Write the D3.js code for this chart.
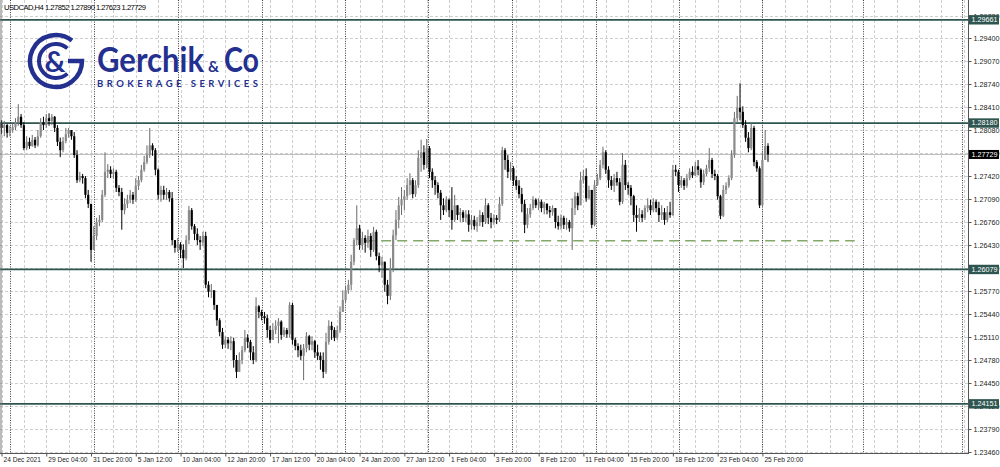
<!DOCTYPE html>
<html><head><meta charset="utf-8">
<script src="https://cdn.jsdelivr.net/npm/d3@7"></script>
<style>html,body{margin:0;padding:0;background:#fff;overflow:hidden}svg{display:block}</style>
</head><body><svg id="c" width="1000" height="467"></svg>
<script>
// ---- DATA (USDCAD, H4) ----
const symbolTitle = "USDCAD,H4";
const lastQuote = ["1.27852", "1.27890", "1.27623", "1.27729"];
const firstOpen = 1.2817;
const closes = [
1.2811,1.2815,1.2804,1.2808,1.2812,1.2819,1.2827,1.2815,1.2782,1.2791,
1.2785,1.2794,1.2786,1.2799,1.2819,1.2815,1.2825,1.2821,1.2827,1.2811,
1.2791,1.2779,1.2792,1.2802,1.2808,1.2799,1.2772,1.2736,1.2742,1.2739,
1.2715,1.2702,1.2636,1.2656,1.2676,1.2679,1.2715,1.2748,1.2751,1.2745,
1.2748,1.2725,1.2719,1.2693,1.2702,1.2708,1.2715,1.2708,1.2728,1.2736,
1.2751,1.2762,1.2772,1.2786,1.2779,1.2751,1.2715,1.2722,1.2715,1.2719,
1.2710,1.2650,1.2639,1.2644,1.2636,1.2624,1.2650,1.2693,1.2670,1.2659,
1.2650,1.2647,1.2656,1.2586,1.2576,1.2578,1.2557,1.2535,1.2518,1.2500,
1.2507,1.2502,1.2505,1.2478,1.2461,1.2478,1.2492,1.2510,1.2504,1.2489,
1.2478,1.2555,1.2547,1.2541,1.2538,1.2521,1.2507,1.2521,1.2527,1.2533,
1.2514,1.2521,1.2515,1.2557,1.2507,1.2498,1.2492,1.2484,1.2495,1.2512,
1.2500,1.2505,1.2489,1.2484,1.2478,1.2461,1.2504,1.2527,1.2521,1.2510,
1.2521,1.2547,1.2564,1.2578,1.2586,1.2619,1.2650,1.2667,1.2643,1.2653,
1.2646,1.2656,1.2636,1.2662,1.2627,1.2614,1.2619,1.2586,1.2570,1.2610,
1.2657,1.2679,1.2700,1.2708,1.2713,1.2729,1.2736,1.2716,1.2729,1.2768,
1.2776,1.2758,1.2782,1.2748,1.2736,1.2729,1.2718,1.2700,1.2693,1.2708,
1.2693,1.2679,1.2700,1.2686,1.2690,1.2682,1.2687,1.2672,1.2679,1.2670,
1.2676,1.2686,1.2676,1.2700,1.2682,1.2676,1.2682,1.2679,1.2702,1.2779,
1.2765,1.2748,1.2753,1.2736,1.2728,1.2716,1.2702,1.2672,1.2687,1.2696,
1.2708,1.2700,1.2705,1.2696,1.2702,1.2693,1.2690,1.2696,1.2676,1.2670,
1.2682,1.2672,1.2676,1.2667,1.2696,1.2713,1.2700,1.2736,1.2742,1.2710,
1.2722,1.2672,1.2729,1.2739,1.2758,1.2776,1.2751,1.2736,1.2728,1.2739,
1.2733,1.2705,1.2758,1.2729,1.2725,1.2713,1.2686,1.2682,1.2687,1.2682,
1.2696,1.2700,1.2693,1.2705,1.2696,1.2686,1.2690,1.2679,1.2690,1.2686,
1.2751,1.2748,1.2729,1.2736,1.2728,1.2739,1.2748,1.2743,1.2756,1.2751,
1.2733,1.2745,1.2753,1.2765,1.2745,1.2742,1.2713,1.2685,1.2722,1.2728,
1.2739,1.2772,1.2825,1.2840,1.2834,1.2815,1.2797,1.2782,1.2811,1.2762,
1.2753,1.2700,1.2765,1.27852,1.27729];
const highs = [
1.2822,1.2821,1.2817,1.2814,1.2818,1.2825,1.2845,1.2831,1.2819,1.2799,
1.2797,1.2801,1.2798,1.2808,1.2825,1.2827,1.2831,1.2832,1.2831,1.2828,
1.2815,1.2797,1.2798,1.2811,1.2811,1.2808,1.2805,1.2779,1.2748,1.2745,
1.2742,1.2722,1.2700,1.2670,1.2682,1.2686,1.2722,1.2776,1.2759,1.2756,
1.2753,1.2751,1.2729,1.2725,1.2710,1.2715,1.2722,1.2719,1.2739,1.2742,
1.2758,1.2771,1.2786,1.2811,1.2789,1.2782,1.2753,1.2728,1.2728,1.2725,
1.2722,1.2719,1.2650,1.2653,1.2647,1.2644,1.2657,1.2699,1.2696,1.2673,
1.2667,1.2656,1.2662,1.2662,1.2591,1.2587,1.2578,1.2557,1.2538,1.2524,
1.2512,1.2511,1.2512,1.2510,1.2485,1.2489,1.2498,1.2521,1.2515,1.2507,
1.2498,1.2568,1.2557,1.2550,1.2547,1.2543,1.2527,1.2531,1.2535,1.2538,
1.2535,1.2525,1.2524,1.2561,1.2560,1.2510,1.2502,1.2500,1.2501,1.2518,
1.2514,1.2512,1.2507,1.2500,1.2489,1.2489,1.2517,1.2535,1.2533,1.2525,
1.2527,1.2555,1.2578,1.2584,1.2593,1.2629,1.2653,1.2700,1.2672,1.2662,
1.2657,1.2665,1.2660,1.2669,1.2665,1.2632,1.2626,1.2619,1.2593,1.2624,
1.2665,1.2693,1.2712,1.2726,1.2722,1.2739,1.2746,1.2739,1.2736,1.2779,
1.2794,1.2786,1.2795,1.2785,1.2753,1.2742,1.2733,1.2722,1.2710,1.2713,
1.2710,1.2726,1.2715,1.2700,1.2696,1.2693,1.2693,1.2693,1.2686,1.2685,
1.2683,1.2693,1.2690,1.2710,1.2703,1.2689,1.2687,1.2686,1.2712,1.2784,
1.2782,1.2772,1.2762,1.2756,1.2742,1.2736,1.2725,1.2708,1.2696,1.2702,
1.2713,1.2710,1.2710,1.2708,1.2705,1.2703,1.2699,1.2700,1.2696,1.2685,
1.2687,1.2685,1.2682,1.2679,1.2710,1.2719,1.2718,1.2748,1.2751,1.2753,
1.2728,1.2722,1.2736,1.2745,1.2765,1.2784,1.2779,1.2756,1.2742,1.2745,
1.2748,1.2739,1.2775,1.2765,1.2733,1.2729,1.2715,1.2700,1.2696,1.2693,
1.2700,1.2710,1.2708,1.2710,1.2708,1.2705,1.2700,1.2696,1.2699,1.2705,
1.2758,1.2758,1.2751,1.2742,1.2739,1.2745,1.2753,1.2756,1.2762,1.2765,
1.2753,1.2751,1.2758,1.2782,1.2768,1.2751,1.2745,1.2715,1.2729,1.2733,
1.2743,1.2779,1.2834,1.2857,1.2875,1.2842,1.2822,1.2805,1.2818,1.2814,
1.2765,1.2756,1.2776,1.2808,1.27890];
const lows = [
1.2802,1.2799,1.2797,1.2799,1.2804,1.2808,1.2814,1.2811,1.2779,1.2779,
1.2781,1.2784,1.2782,1.2784,1.2797,1.2808,1.2811,1.2814,1.2815,1.2805,
1.2785,1.2769,1.2776,1.2789,1.2797,1.2794,1.2768,1.2732,1.2733,1.2731,
1.2710,1.2696,1.2619,1.2636,1.2650,1.2670,1.2676,1.2712,1.2739,1.2739,
1.2738,1.2719,1.2713,1.2665,1.2687,1.2696,1.2703,1.2702,1.2705,1.2722,
1.2733,1.2748,1.2759,1.2768,1.2771,1.2743,1.2708,1.2705,1.2708,1.2708,
1.2705,1.2643,1.2632,1.2633,1.2624,1.2610,1.2621,1.2644,1.2665,1.2650,
1.2643,1.2636,1.2642,1.2581,1.2568,1.2567,1.2550,1.2527,1.2512,1.2494,
1.2495,1.2494,1.2492,1.2467,1.2452,1.2464,1.2472,1.2489,1.2495,1.2478,
1.2472,1.2475,1.2538,1.2535,1.2530,1.2510,1.2502,1.2510,1.2515,1.2502,
1.2507,1.2511,1.2510,1.2510,1.2500,1.2492,1.2482,1.2478,1.2449,1.2489,
1.2492,1.2492,1.2481,1.2478,1.2464,1.2452,1.2458,1.2500,1.2507,1.2505,
1.2507,1.2517,1.2547,1.2560,1.2573,1.2578,1.2614,1.2643,1.2636,1.2636,
1.2632,1.2639,1.2626,1.2633,1.2621,1.2604,1.2596,1.2576,1.2558,1.2564,
1.2604,1.2650,1.2667,1.2686,1.2693,1.2708,1.2715,1.2710,1.2712,1.2725,
1.2748,1.2751,1.2753,1.2739,1.2725,1.2715,1.2710,1.2679,1.2686,1.2690,
1.2683,1.2665,1.2676,1.2679,1.2676,1.2676,1.2676,1.2662,1.2665,1.2665,
1.2662,1.2670,1.2669,1.2673,1.2673,1.2667,1.2672,1.2673,1.2676,1.2699,
1.2751,1.2739,1.2736,1.2728,1.2722,1.2710,1.2690,1.2660,1.2667,1.2682,
1.2693,1.2696,1.2693,1.2690,1.2687,1.2687,1.2682,1.2685,1.2667,1.2665,
1.2665,1.2666,1.2665,1.2662,1.2636,1.2686,1.2693,1.2728,1.2731,1.2705,
1.2708,1.2667,1.2670,1.2728,1.2736,1.2753,1.2745,1.2725,1.2722,1.2719,
1.2728,1.2700,1.2702,1.2722,1.2715,1.2700,1.2676,1.2662,1.2676,1.2676,
1.2679,1.2690,1.2686,1.2690,1.2690,1.2676,1.2679,1.2672,1.2676,1.2682,
1.2685,1.2742,1.2719,1.2725,1.2722,1.2725,1.2736,1.2739,1.2742,1.2743,
1.2725,1.2729,1.2742,1.2748,1.2739,1.2736,1.2708,1.2680,1.2683,1.2716,
1.2725,1.2736,1.2768,1.2819,1.2822,1.2811,1.2791,1.2776,1.2779,1.2756,
1.2748,1.2696,1.2699,1.2771,1.27623];

const timeLabels = ["24 Dec 2021","29 Dec 04:00","31 Dec 20:00","5 Jan 12:00","10 Jan 04:00",
  "12 Jan 20:00","17 Jan 12:00","20 Jan 04:00","24 Jan 20:00","27 Jan 12:00","1 Feb 04:00",
  "3 Feb 20:00","8 Feb 12:00","11 Feb 04:00","15 Feb 20:00","18 Feb 12:00","23 Feb 04:00","25 Feb 20:00"];
const timeLabelBars = [0,16,32,48,64,80,96,112,128,144,160,176,192,208,224,240,256,272];
const priceLabels = ["1.23460","1.23790","1.24120","1.24450","1.24780","1.25110","1.25440","1.25770",
  "1.26100","1.26430","1.26760","1.27090","1.27420","1.27750","1.28080","1.28410","1.28740",
  "1.29070","1.29400","1.29720"];
const levelLabels = ["1.29661","1.28180","1.26079","1.24151"];
const currentPrice = 1.27729;
const supportLevel = 1.2649;
const supportFromBar = 130, supportToBar = 305;
const weekSeparatorBars = [3.2,33.1,63.1,93.1,122.8,152.5,182.5,212.6,242.3,271.9,308,343.4];

// ---- DRAW ----
const FONT = 'Tahoma, "Liberation Sans", Arial, sans-serif';
const plotR = 968, plotB = 453;
const svg = d3.select("#c");
const y = d3.scaleLinear().domain([1.23460, 1.29400]).range([452, 38]);
const x = d3.scaleLinear().domain([0, 274]).range([1.5, 768]);

const priceVals = priceLabels.map(Number);
const levels = levelLabels.map(Number);

// grid
const grid = svg.append("g");
grid.selectAll("line.h").data(priceVals).join("line")
  .attr("x1", 0).attr("x2", plotR).attr("y1", d => Math.round(y(d)) + 0.5).attr("y2", d => Math.round(y(d)) + 0.5)
  .attr("stroke", "#cfcfcf").attr("stroke-width", 1).attr("stroke-dasharray", "3,2");
const vBars = d3.range(0, 350, 8).filter(b => x(b) < plotR);
grid.selectAll("line.v").data(vBars).join("line")
  .attr("x1", d => Math.round(x(d)) + 0.5).attr("x2", d => Math.round(x(d)) + 0.5)
  .attr("y1", 0).attr("y2", plotB)
  .attr("stroke", "#cfcfcf").attr("stroke-width", 1).attr("stroke-dasharray", "3,2");
grid.selectAll("line.s").data(weekSeparatorBars).join("line")
  .attr("x1", d => Math.round(x(d)) + 0.5).attr("x2", d => Math.round(x(d)) + 0.5)
  .attr("y1", 0).attr("y2", plotB)
  .attr("stroke", "#3a3a3a").attr("stroke-width", 1).attr("stroke-dasharray", "1,1.4");

// logo
const logo = svg.append("g");
const blue = "#24308f";
const LF = "Lato, 'Open Sans', sans-serif";
const cx = 56, cy = 61;
function pt(r, a) { const t = a * Math.PI / 180; return [cx + r * Math.cos(t), cy + r * Math.sin(t)]; }
{
  const s = pt(26, -52);
  logo.append("path")
    .attr("d", `M${s[0]},${s[1]} A26,26 0 1 0 ${cx + 26},${cy} L${cx + 12},${cy}`)
    .attr("fill", "none").attr("stroke", blue).attr("stroke-width", 4.5);
  const a = pt(17, -48), b = pt(17, 48);
  logo.append("path")
    .attr("d", `M${a[0]},${a[1]} A17,17 0 1 0 ${b[0]},${b[1]}`)
    .attr("fill", "none").attr("stroke", blue).attr("stroke-width", 4);
  logo.append("text").attr("x", 55).attr("y", 72).attr("text-anchor", "middle")
    .attr("font-family", LF).attr("font-weight", 700)
    .attr("font-size", 29).attr("fill", blue).text("&");
  const brand = logo.append("text").attr("y", 72)
    .attr("font-family", LF).attr("font-weight", 700).attr("fill", blue);
  brand.append("tspan").attr("x", 97).attr("font-size", 34)
    .attr("textLength", 107).attr("lengthAdjust", "spacingAndGlyphs").text("Gerchik");
  brand.append("tspan").attr("x", 208).attr("font-size", 16)
    .attr("textLength", 11).attr("lengthAdjust", "spacingAndGlyphs").text("&");
  brand.append("tspan").attr("x", 224).attr("font-size", 34)
    .attr("textLength", 35).attr("lengthAdjust", "spacingAndGlyphs").text("Co");
  logo.append("text").attr("x", 97).attr("y", 87)
    .attr("font-family", LF).attr("font-weight", 700)
    .attr("font-size", 9.5).attr("fill", blue).attr("textLength", 161).attr("lengthAdjust", "spacing")
    .text("BROKERAGE SERVICES");
}

// current price line
svg.append("line").attr("x1", 0).attr("x2", plotR)
  .attr("y1", y(currentPrice)).attr("y2", y(currentPrice))
  .attr("stroke", "#bdbdbd").attr("stroke-width", 1);

// level lines
svg.append("g").selectAll("line").data(levels).join("line")
  .attr("x1", 0).attr("x2", plotR).attr("y1", d => y(d)).attr("y2", d => y(d))
  .attr("stroke", "#2f5550").attr("stroke-width", 1.8);

// support dashed line
svg.append("line").attr("x1", x(supportFromBar)).attr("x2", x(supportToBar))
  .attr("y1", y(supportLevel)).attr("y2", y(supportLevel))
  .attr("stroke", "#84a86a").attr("stroke-width", 1.6).attr("stroke-dasharray", "10,6");

// candles
const bars = closes.map((c, i) => {
  const o = i ? closes[i - 1] : firstOpen;
  return { i, o, c, h: Math.max(highs[i], o, c), l: Math.min(lows[i], o, c) };
});
const cg = svg.append("g");
cg.selectAll("line").data(bars).join("line")
  .attr("x1", d => x(d.i)).attr("x2", d => x(d.i))
  .attr("y1", d => y(d.h)).attr("y2", d => y(d.l))
  .attr("stroke", d => d.c >= d.o ? "#6a6a6a" : "#000").attr("stroke-width", 1);
cg.selectAll("rect").data(bars).join("rect")
  .attr("x", d => x(d.i) - 1.1).attr("width", 2.2)
  .attr("y", d => y(Math.max(d.o, d.c)))
  .attr("height", d => Math.max(1, Math.abs(y(d.o) - y(d.c))))
  .attr("fill", d => d.c >= d.o ? "#8a8a8a" : "#000");

// header text
svg.append("text").attr("x", 4).attr("y", 10)
  .attr("font-family", FONT).attr("font-size", 7.6).attr("fill", "#000")
  .attr("textLength", 142).attr("lengthAdjust", "spacing")
  .text(symbolTitle + "  " + lastQuote.join(" "));

// frame
svg.append("line").attr("x1", plotR + 0.5).attr("x2", plotR + 0.5).attr("y1", 0).attr("y2", plotB)
  .attr("stroke", "#555").attr("stroke-width", 1);
svg.append("line").attr("x1", 0).attr("x2", plotR + 1).attr("y1", plotB + 0.5).attr("y2", plotB + 0.5)
  .attr("stroke", "#555").attr("stroke-width", 1);
svg.append("line").attr("x1", 1).attr("x2", 1).attr("y1", 0).attr("y2", plotB)
  .attr("stroke", "#777").attr("stroke-width", 1);

// right price axis
const yAxis = d3.axisRight(y).tickValues(priceVals).tickFormat((d, i) => priceLabels[i])
  .tickSize(3).tickSizeOuter(0).tickPadding(2);
const ya = svg.append("g").attr("transform", `translate(${plotR + 0.5},0)`).call(yAxis);
ya.select(".domain").remove();
ya.selectAll("line").attr("stroke", "#555");
ya.selectAll("text").attr("font-family", FONT).attr("font-size", 7.2).attr("fill", "#222");

// bottom time axis
const xAxis = d3.axisBottom(x).tickValues(timeLabelBars).tickFormat((d, i) => timeLabels[i])
  .tickSize(3).tickSizeOuter(0).tickPadding(1);
const xa = svg.append("g").attr("transform", `translate(0,${plotB + 0.5})`).call(xAxis);
xa.select(".domain").remove();
xa.selectAll("line").attr("stroke", "#555");
xa.selectAll("text").attr("font-family", FONT).attr("font-size", 6.6).attr("fill", "#222")
  .attr("text-anchor", "start").attr("dx", 1.5);

// level label boxes
const lb = svg.append("g").selectAll("g").data(levels).join("g")
  .attr("transform", d => `translate(${plotR + 1},${y(d)})`);
lb.append("rect").attr("x", 0).attr("y", -4.7).attr("width", 30).attr("height", 9.4).attr("fill", "#2f5550");
lb.append("text").attr("x", 2.5).attr("y", 0).attr("dy", "0.34em")
  .attr("font-family", FONT).attr("font-size", 7.2).attr("fill", "#fff")
  .text((d, i) => levelLabels[i]);

// current price box
const cp = svg.append("g").attr("transform", `translate(${plotR + 1},${y(currentPrice)})`);
cp.append("rect").attr("x", 0).attr("y", -4.5).attr("width", 30).attr("height", 9).attr("fill", "#000");
cp.append("text").attr("x", 2.5).attr("y", 0).attr("dy", "0.34em")
  .attr("font-family", FONT).attr("font-size", 7.2).attr("fill", "#fff").text(lastQuote[3]);
</script>
</body></html>
